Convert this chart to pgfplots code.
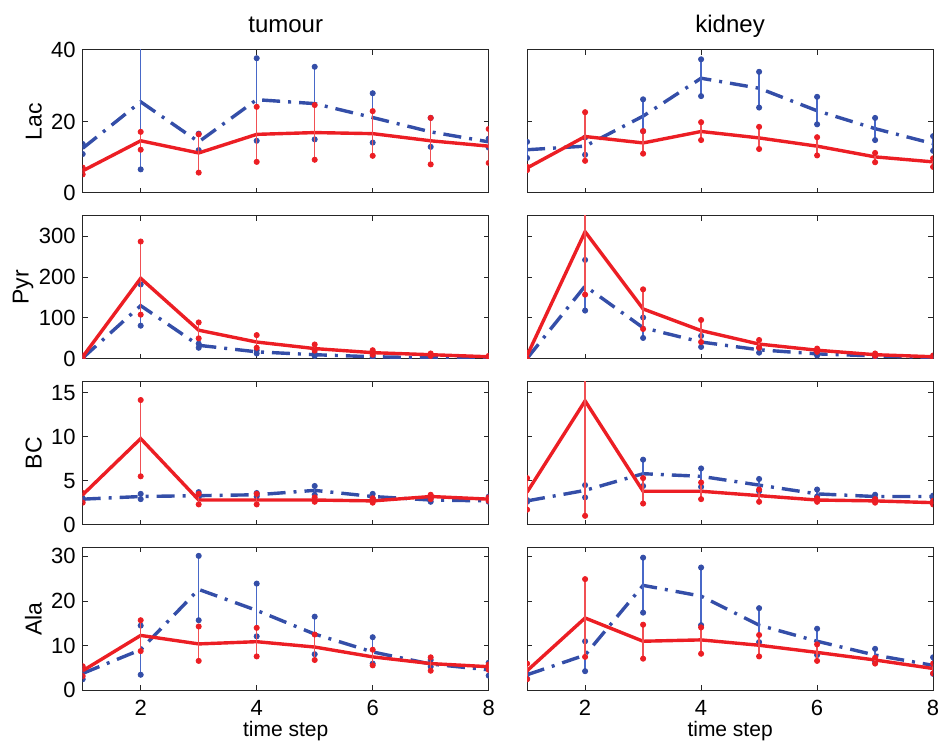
\documentclass[border=0pt]{standalone}
\usepackage{fontspec}
\setmainfont{Liberation Sans}
\usepackage{pgfplots}
\usepackage{pgfplotstable}
\pgfplotsset{compat=1.18}
\usepgfplotslibrary{groupplots}

\definecolor{matred}{RGB}{236,30,36}
\definecolor{matblue}{RGB}{52,78,168}
\definecolor{barblue}{RGB}{72,104,200}
\definecolor{barred}{RGB}{240,80,84}

% columns: x, red mean/upper/lower, blue mean/upper/lower
\pgfplotstableread{
x rm rhi rlo bm bhi blo
1 6.2 7.1 5.2 12.5 13.7 10.9
2 14.6 17.1 12.1 25.5 44.4 6.6
3 11.2 16.4 5.7 14.3 16.6 12.0
4 16.4 24.1 8.7 26.1 37.7 14.6
5 16.9 24.6 9.3 25.0 35.3 15.0
6 16.6 22.9 10.4 21.1 27.9 14.1
7 14.6 21.0 8.0 17.1 21.0 12.9
8 13.1 17.9 8.4 14.3 15.2 12.7
}\tLacT
\pgfplotstableread{
x rm rhi rlo bm bhi blo
1 7.0 7.3 6.4 12.1 14.3 9.8
2 15.8 22.6 9.0 13.1 15.5 10.7
3 14.0 17.3 11.0 21.5 26.2 17.3
4 17.2 19.8 14.8 32.1 37.4 27.1
5 15.4 18.5 12.3 29.3 33.9 23.9
6 13.1 15.6 10.5 23.0 26.9 19.2
7 10.1 11.2 8.6 18.0 21.0 14.8
8 8.7 9.7 7.3 13.8 15.9 11.8
}\tLacK
\pgfplotstableread{
x rm rhi rlo bm bhi blo
1 5 8 2 2 4 0
2 197 287 108 130 182 81
3 70 89 50 33 37 27
4 41 58 27 17 21 13
5 25 35 20 10 13 7
6 15 21 10 5 7 3
7 10 13 7 2.5 4 1
8 5 7 2 2 3 1
}\tPyrT
\pgfplotstableread{
x rm rhi rlo bm bhi blo
1 8 15 0 1 3 0
2 311 465 157 178 242 118
3 122 170 73 76 101 51
4 69 95 41 41 56 29
5 36 46 27 22 27 15
6 21 25 17 12 17 8
7 10 13 7 7 9 4
8 5 8 3 3 5 1
}\tPyrK
\pgfplotstableread{
x rm rhi rlo bm bhi blo
1 3.4 3.6 2.5 2.9 3.0 2.8
2 9.8 14.2 5.5 3.2 3.5 2.9
3 2.8 3.5 2.3 3.3 3.7 3.1
4 2.8 3.5 2.3 3.4 3.6 3.2
5 2.8 3.1 2.6 3.9 4.4 3.4
6 2.7 3.0 2.5 3.2 3.5 3.0
7 3.2 3.4 2.9 2.8 3.0 2.6
8 2.9 3.1 2.7 2.7 3.2 2.6
}\tBCT
\pgfplotstableread{
x rm rhi rlo bm bhi blo
1 3.7 5.3 1.7 2.7 2.8 2.6
2 14.1 27.2 1.0 3.9 4.5 3.1
3 3.8 5.3 2.4 5.8 7.4 4.4
4 3.8 4.8 2.9 5.5 6.4 4.3
5 3.3 4.0 2.6 4.5 5.2 3.8
6 2.8 3.0 2.6 3.5 4.0 3.2
7 2.7 2.9 2.5 3.2 3.4 3.0
8 2.5 2.7 2.3 3.2 3.3 3.0
}\tBCK
\pgfplotstableread{
x rm rhi rlo bm bhi blo
1 4.4 5.4 3.2 3.8 5.1 2.5
2 12.3 15.7 8.8 9.1 14.5 3.5
3 10.4 14.3 6.6 22.6 30.1 15.7
4 10.9 14.0 7.6 17.9 23.9 12.1
5 9.7 12.5 6.8 12.6 16.5 8.1
6 7.5 9.1 5.6 8.6 11.9 6.0
7 6.0 7.4 4.4 5.9 6.8 5.3
8 5.3 5.8 4.6 4.6 6.2 3.3
}\tAlaT
\pgfplotstableread{
x rm rhi rlo bm bhi blo
1 4.4 6.0 2.5 3.5 3.7 2.6
2 16.2 24.9 7.5 7.9 11.0 4.3
3 11.0 14.7 7.1 23.5 29.7 17.4
4 11.3 14.1 8.2 21.1 27.5 14.6
5 10.1 12.4 7.6 14.6 18.4 10.8
6 8.5 10.3 6.6 11.0 13.8 7.9
7 6.8 7.3 6.0 7.9 9.3 6.4
8 4.9 6.0 3.8 5.6 7.4 3.7
}\tAlaK

\pgfplotsset{
  panel/.style={
    scale only axis, width=203pt, height=71.5pt,
    xmin=1, xmax=8, xtick={2,4,6,8}, ymin=0,
    tick align=inside, major tick length=2.5pt,
    axis line style={black!85, line width=0.5pt},
    tick style={black!85, line width=0.5pt},
    tick label style={font=\fontsize{11}{13}\selectfont},
    xticklabel style={anchor=base, yshift=-12.5pt},
    ylabel style={font=\fontsize{11.5}{13}\selectfont,
      at={(axis description cs:-0.101,0.5)}, anchor=base},
    xlabel style={font=\fontsize{10.5}{12}\selectfont,
      at={(axis description cs:0.5,0)}, anchor=base, yshift=-23pt},
    title style={font=\fontsize{12}{14}\selectfont,
      at={(axis description cs:0.5,1)}, anchor=base, yshift=2.5pt},
    /pgf/number format/assume math mode=true,
    scaled y ticks=false,
  },
  redline/.style={matred, line width=1.7pt, mark=none,
    error bars/.cd, y dir=both, y explicit,
    error bar style={barred, line width=0.7pt, solid},
    error mark=*, error mark options={mark size=1.3pt, draw=matred, fill=matred, solid}},
  blueline/.style={matblue, line width=1.7pt, mark=none,
    dash pattern=on 9pt off 4pt on 1.5pt off 4pt,
    error bars/.cd, y dir=both, y explicit,
    error bar style={barblue, line width=0.7pt, solid},
    error mark=*, error mark options={mark size=1.3pt, draw=matblue, fill=matblue, solid}},
}

\newcommand{\pair}[1]{%
  \addplot[blueline] table[x=x, y=bm,
    y error plus expr=\thisrow{bhi}-\thisrow{bm},
    y error minus expr=\thisrow{bm}-\thisrow{blo}] {#1};
  \addplot[redline] table[x=x, y=rm,
    y error plus expr=\thisrow{rhi}-\thisrow{rm},
    y error minus expr=\thisrow{rm}-\thisrow{rlo}] {#1};
}

\begin{document}
\begin{tikzpicture}
\begin{groupplot}[
  group style={group size=2 by 4, horizontal sep=19.2pt, vertical sep=11.4pt},
  panel,
]
\nextgroupplot[title={tumour}, ylabel={Lac}, ymax=40, ytick={0,20,40}, xticklabels={}]
\pair{\tLacT}
\nextgroupplot[title={kidney}, ymax=40, ytick={0,20,40}, xticklabels={}, yticklabels={}]
\pair{\tLacK}
\nextgroupplot[ylabel={Pyr}, ylabel style={at={(axis description cs:-0.133,0.5)}},
  ymax=350, ytick={0,100,200,300}, xticklabels={}]
\pair{\tPyrT}
\nextgroupplot[ymax=350, ytick={0,100,200,300}, xticklabels={}, yticklabels={}]
\pair{\tPyrK}
\nextgroupplot[ylabel={BC}, ymax=16.3, ytick={0,5,10,15}, xticklabels={}]
\pair{\tBCT}
\nextgroupplot[ymax=16.3, ytick={0,5,10,15}, xticklabels={}, yticklabels={}]
\pair{\tBCK}
\nextgroupplot[ylabel={Ala}, ymax=32, ytick={0,10,20,30}, xlabel={time step}]
\pair{\tAlaT}
\nextgroupplot[ymax=32, ytick={0,10,20,30}, yticklabels={}, xlabel={time step}]
\pair{\tAlaK}
\end{groupplot}
\pgfresetboundingbox
\path ([shift={(-41.35pt,25pt)}]group c1r1.north west) rectangle ([shift={(428.65pt,-346pt)}]group c1r1.north west);
\end{tikzpicture}
\end{document}
